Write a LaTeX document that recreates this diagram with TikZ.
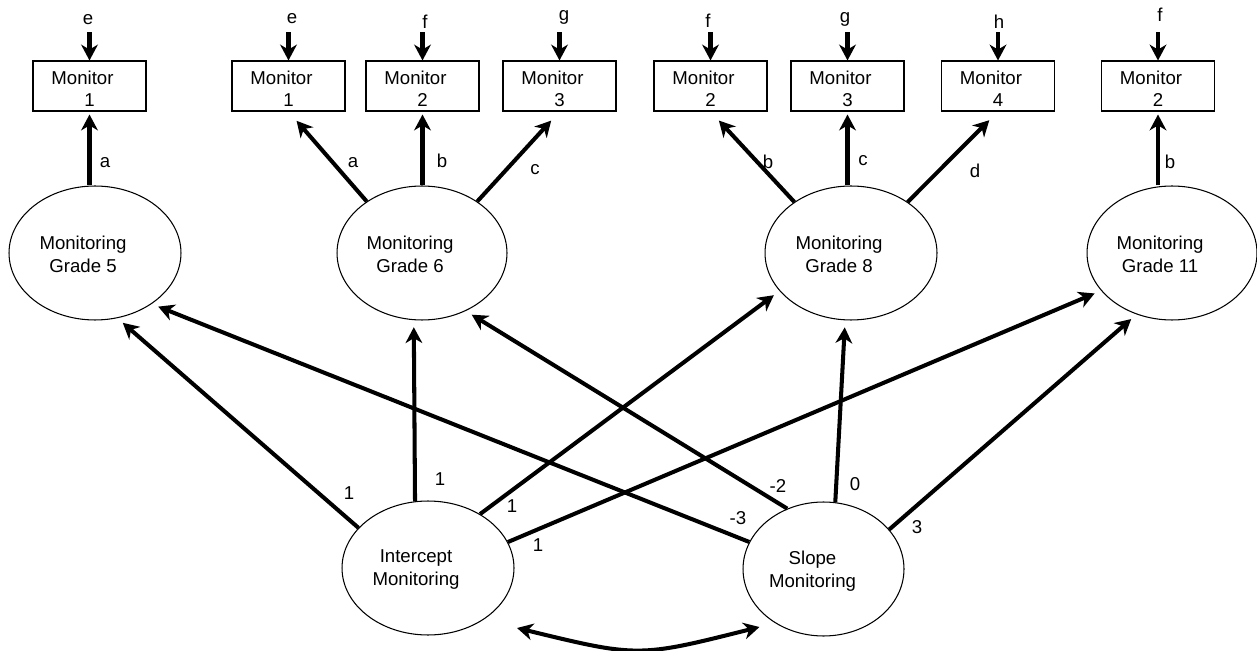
\documentclass[tikz,border=0pt]{standalone}
\usepackage{fontspec}
\setmainfont{Liberation Sans}
\usetikzlibrary{shapes.geometric,arrows.meta,calc}
\begin{document}
\begin{tikzpicture}[x=0.02cm,y=-0.02cm,
  font=\fontsize{10.6}{13}\selectfont,
  ell/.style={draw,ellipse,line width=0.6pt,inner sep=0pt,minimum width=3.44cm,minimum height=2.68cm},
  box/.style={draw,rectangle,line width=0.6pt,minimum width=2.26cm,minimum height=1cm,inner sep=0pt},
  txt/.style={inner sep=0pt,align=center},
  lab/.style={inner sep=0pt},
  tip/.tip={Stealth[length=9pt,width=9.5pt,inset=2.8pt]},
  arr/.style={line width=2.3pt,-tip},
  barr/.style={line width=2.3pt,tip-tip},
]
\useasboundingbox (0,0) rectangle (1257,651);

% latent ellipses
\node[ell] (g5) at (95,253) {};
\node[ell,minimum width=3.40cm] (g6) at (422,253) {};
\node[ell] (g8) at (851,253) {};
\node[ell,minimum width=3.40cm] (g11) at (1172,253) {};
\node[ell] (int) at (428,568) {};
\node[ell,minimum width=3.22cm] (slo) at (823.5,569) {};

\node[txt] (tg5) at ($(g5)+(-12,1.5)$) {Monitoring\\Grade 5};
\node[txt] (tg6) at ($(g6)+(-12,1.5)$) {Monitoring\\Grade 6};
\node[txt] (tg8) at ($(g8)+(-12,1.5)$) {Monitoring\\Grade 8};
\node[txt] (tg11) at ($(g11)+(-12,1.5)$) {Monitoring\\Grade 11};
\node[txt] (tint) at ($(int)+(-12,1.5)$) {Intercept\\Monitoring};
\node[txt] (tslo) at ($(slo)+(-11,2.5)$) {Slope\\Monitoring};

% indicator boxes
\node[box] (b1) at (89.5,86) {};
\node[box] (b2) at (288.5,86) {};
\node[box] (b3) at (422.5,86) {};
\node[box] (b4) at (559.5,86) {};
\node[box] (b5) at (710.5,86) {};
\node[box] (b6) at (847.5,86) {};
\node[box] (b7) at (998,86) {};
\node[box] (b8) at (1158,86) {};

\foreach \b/\n in {b1/1,b2/1,b3/2,b4/3,b5/2,b6/3,b7/4,b8/2}{
  \node[lab] (\b m) at ($(\b)+(-7,-8.5)$) {Monitor};
  \node[lab] (\b n) at ($(\b)+(0,14.5)$) {\n};
}

% residual labels and arrows
\node[lab] (e1) at (88,19.5) {e};
\node[lab] (e2) at (292,19) {e};
\node[lab] (e3) at (425,21.5) {f};
\node[lab] (e4) at (564,17.5) {g};
\node[lab] (e5) at (708,21) {f};
\node[lab] (e6) at (845,19) {g};
\node[lab] (e7) at (999,21.5) {h};
\node[lab] (e8) at (1160,15) {f};
\foreach \b in {b1,b2,b3,b4,b5,b6,b7,b8}{
  \draw[arr] ($(\b.north)+(0,-28)$) -- (\b.north);
}

% loadings to indicators
\draw[arr,shorten >=1.7pt] (b1 |- g5.north) -- (b1.south);
\draw[arr,shorten >=7pt] (g6.137) -- (b2.south);
\draw[arr,shorten >=1.7pt] (b3 |- g6.north) -- (b3.south);
\draw[arr,shorten >=7pt] (g6.43) -- (b4.south);
\draw[arr,shorten >=7pt] (g8.138) -- (b5.south);
\draw[arr,shorten >=1.7pt] (b6 |- g8.north) -- (b6.south);
\draw[arr,shorten >=7pt] (g8.42) -- (b7.south);
\draw[arr,shorten >=1.7pt] (b8 |- g11.north) -- (b8.south);

\node[lab] (la1) at (105,163) {a};
\node[lab] (la2) at (353,163) {a};
\node[lab] (lb1) at (442,161) {b};
\node[lab] (lc1) at (535,170) {c};
\node[lab] (lb2) at (768,162) {b};
\node[lab] (lc2) at (863,161) {c};
\node[lab] (ld1) at (975,171) {d};
\node[lab] (lb3) at (1170,162) {b};

% growth loadings
\draw[arr,shorten >=4pt] (int.150) -- (g5.-71);
\draw[arr,shorten >=4pt] (int.101) -- (g6.-97);
\draw[arr,shorten >=4pt] (int.46) -- (g8.-152);
\draw[arr,shorten >=4pt] (int.18) -- (g11.-152);
\draw[arr,shorten >=4pt] (slo.160) -- (g5.-42);
\draw[arr,shorten >=4pt] (slo.121) -- (g6.-53);
\draw[arr,shorten >=4pt] (slo.80) -- (g8.-95);
\draw[arr,shorten >=4pt] (slo.31) -- (g11.-120);

\node[lab] (l1) at (349,493) {1};
\node[lab] (l2) at (440,479) {1};
\node[lab] (l3) at (512,506) {1};
\node[lab] (l4) at (538,545) {1};
\node[lab] (l5) at (738,518) {-3};
\node[lab] (l6) at (778,486) {-2};
\node[lab] (l7) at (855,484) {0};
\node[lab] (l8) at (917,527) {3};

% covariance
\coordinate (cl) at ($(int)+(89,60)$);
\coordinate (cr) at ($(slo)+(-64,58)$);
\draw[barr] (cl) .. controls ($(cl)!0.5!(cr)+(0,30)$) .. (cr);
\end{tikzpicture}
\end{document}
